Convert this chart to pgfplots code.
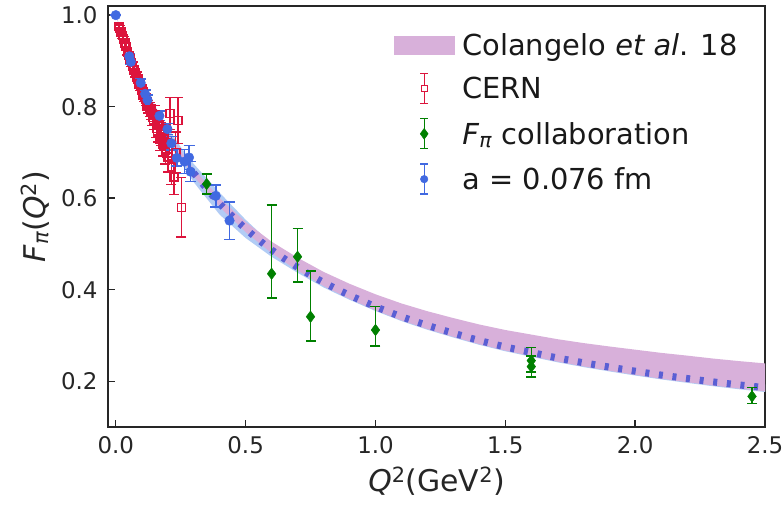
\documentclass[border=0pt]{standalone}
\usepackage{fontspec}
\setmainfont{DejaVu Sans}
\usepackage{pgfplots}
\usepackage{pgfplotstable}
\pgfplotsset{compat=1.18}
\usepgfplotslibrary{fillbetween}

\definecolor{crimson}{RGB}{220,20,60}
\definecolor{royal}{RGB}{65,105,225}
\definecolor{fgreen}{RGB}{0,128,0}
\definecolor{pinkband}{RGB}{216,176,218}
\definecolor{latband}{RGB}{178,204,245}
\definecolor{dashblue}{RGB}{90,95,212}

\pgfplotstableread{
x    cu     cl     lu     ll     c
0.00 1.000  1.000  1.000  1.000  1.000
0.05 0.9205 0.9175 0.923  0.915  0.919
0.10 0.854  0.848  0.859  0.843  0.851
0.15 0.7965 0.788  0.803  0.781  0.792
0.20 0.746  0.735  0.754  0.726  0.740
0.25 0.7025 0.689  0.712  0.678  0.695
0.30 0.664  0.648  0.675  0.635  0.655
0.40 0.600  0.581  0.612  0.564  0.588
0.50 0.548  0.526  0.553  0.513  0.533
0.60 0.505  0.480  0.500  0.472  0.487
0.70 0.470  0.442  0.460  0.437  0.449
0.80 0.439  0.408  0.425  0.405  0.416
0.90 0.413  0.380  0.396  0.378  0.388
1.00 0.390  0.355  0.370  0.3535 0.363
1.10 0.370  0.333  0.348  0.3315 0.341
1.20 0.353  0.314  0.329  0.3125 0.322
1.30 0.338  0.297  0.312  0.2955 0.305
1.40 0.324  0.281  0.296  0.2795 0.289
1.50 0.312  0.267  0.282  0.2655 0.275
1.60 0.302  0.255  0.270  0.2535 0.263
1.70 0.292  0.243  0.258  0.2415 0.251
1.80 0.2835 0.2325 0.2475 0.231  0.2405
1.90 0.276  0.223  0.238  0.2215 0.231
2.00 0.269  0.214  0.229  0.2125 0.222
2.10 0.262  0.2055 0.2205 0.204  0.2135
2.20 0.256  0.198  0.213  0.1965 0.206
2.30 0.2496 0.1906 0.2056 0.1891 0.1986
2.40 0.244  0.184  0.199  0.1825 0.192
2.50 0.239  0.178  0.193  0.1765 0.186
}\bands

\pgfplotstableread{
x     y     e
0.012 0.975 0.006
0.015 0.972 0.006
0.020 0.963 0.006
0.025 0.955 0.006
0.030 0.948 0.006
0.035 0.939 0.007
0.040 0.931 0.007
0.045 0.920 0.007
0.050 0.912 0.008
0.055 0.904 0.008
0.060 0.896 0.008
0.065 0.889 0.009
0.070 0.880 0.009
0.075 0.874 0.009
0.080 0.866 0.010
0.085 0.860 0.010
0.090 0.851 0.010
0.095 0.846 0.011
0.100 0.838 0.011
0.105 0.829 0.012
0.110 0.823 0.012
0.115 0.816 0.013
0.120 0.806 0.013
0.125 0.800 0.014
0.130 0.794 0.015
0.135 0.788 0.016
0.141 0.776 0.017
0.146 0.768 0.018
0.151 0.782 0.020
0.156 0.752 0.020
0.161 0.745 0.022
0.166 0.760 0.022
0.171 0.728 0.024
0.176 0.740 0.025
0.181 0.718 0.026
0.186 0.732 0.028
0.191 0.705 0.030
0.196 0.722 0.032
0.201 0.690 0.033
0.209 0.785 0.035
0.214 0.668 0.038
0.224 0.646 0.038
0.231 0.700 0.045
0.240 0.770 0.050
0.253 0.580 0.065
}\cern

\pgfplotstableread{
x     y     ep    em
0.35  0.631 0.022 0.022
0.60  0.435 0.150 0.053
0.70  0.472 0.062 0.055
0.75  0.341 0.100 0.053
1.00  0.312 0.051 0.035
1.60  0.245 0.029 0.025
1.60  0.232 0.023 0.023
2.45  0.167 0.019 0.016
}\fpi

\pgfplotstableread{
x     y     e
0.000 1.000 0.000
0.052 0.910 0.006
0.058 0.898 0.006
0.096 0.852 0.008
0.113 0.828 0.008
0.122 0.815 0.010
0.168 0.780 0.010
0.199 0.751 0.012
0.214 0.720 0.015
0.235 0.688 0.018
0.265 0.680 0.026
0.282 0.689 0.026
0.288 0.658 0.022
0.385 0.605 0.024
0.438 0.551 0.041
}\latt

\begin{document}
\begin{tikzpicture}
\begin{axis}[
  name=ax,
  scale only axis,
  width=657bp, height=421bp,
  xmin=-0.03, xmax=2.5,
  ymin=0.1, ymax=1.02,
  xtick={0,0.5,1,1.5,2,2.5},
  xticklabels={0.0,0.5,1.0,1.5,2.0,2.5},
  ytick={0.2,0.4,0.6,0.8,1.0},
  yticklabels={0.2,0.4,0.6,0.8,1.0},
  /pgf/number format/assume math mode=true,
  tick align=inside,
  xtick pos=bottom, ytick pos=left,
  major tick length=7bp,
  tick style={line width=1.4bp, black!85},
  axis line style={line width=1.6bp, black!85},
  ticklabel style={font=\fontsize{23}{27}\selectfont, text=black!85},
  xticklabel style={yshift=-6bp},
  yticklabel style={xshift=-7bp},
  label style={font=\fontsize{30}{34}\selectfont, text=black!85},
  xlabel={\textit{Q}\textsuperscript{2}(GeV\textsuperscript{2})},
  ylabel={\textit{F}\textsubscript{\textit{π}}(\textit{Q}\textsuperscript{2})},
  x label style={at={(axis description cs:0.5,-0.095)}, anchor=north, inner sep=0pt},
  y label style={at={(axis description cs:-0.111,0.5)}, anchor=center, inner sep=0pt},
  legend style={at={(0.435,0.94)}, anchor=north west, draw=none, fill=none,
    font=\fontsize{29}{33}\selectfont, row sep=14bp, inner sep=0pt, text=black!90,
    /tikz/every odd column/.append style={column sep=6bp}},
  legend cell align=left,
  clip=true,
]
% bands
\addplot[name path=lu, draw=none, forget plot] table[x=x,y=lu] {\bands};
\addplot[name path=ll, draw=none, forget plot] table[x=x,y=ll] {\bands};
\addplot[latband, forget plot] fill between[of=lu and ll];
\addplot[name path=cu, draw=none, forget plot] table[x=x,y=cu] {\bands};
\addplot[name path=cl, draw=none, forget plot] table[x=x,y=cl] {\bands};
\addplot[pinkband, forget plot] fill between[of=cu and cl];
\addplot[dashblue, line width=7bp, dash pattern=on 4bp off 9.7bp, smooth, forget plot]
  table[x=x,y=c, restrict x to domain=0.29:2.6] {\bands};

% CERN
\addplot[only marks, draw=crimson, color=crimson, mark=square, mark size=4bp,
  mark options={line width=1.5bp, draw=crimson, fill=none, solid}, forget plot,
  error bars/.cd, y dir=both, y explicit,
  error bar style={line width=1.4bp, draw=crimson},
  error mark options={rotate=90, mark size=5bp, line width=1.4bp, draw=crimson}]
  table[x=x, y=y, y error=e] {\cern};

% F_pi collaboration
\addplot[only marks, fgreen, mark=diamond*, mark size=5.8bp,
  mark options={fill=fgreen, draw=fgreen, solid}, forget plot,
  error bars/.cd, y dir=both, y explicit,
  error bar style={line width=1.4bp, fgreen},
  error mark options={rotate=90, mark size=5bp, line width=1.4bp, fgreen}]
  table[x=x, y=y, y error plus=ep, y error minus=em] {\fpi};

% lattice
\addplot[only marks, royal, mark=*, mark size=4.8bp,
  mark options={fill=royal, draw=royal, solid}, forget plot,
  error bars/.cd, y dir=both, y explicit,
  error bar style={line width=1.5bp, royal},
  error mark options={rotate=90, mark size=5.5bp, line width=1.5bp, royal}]
  table[x=x, y=y, y error=e] {\latt};

% legend
\addlegendimage{legend image code/.code={
  \fill[pinkband] (0bp,-9bp) rectangle (60bp,9bp);}}
\addlegendentry{Colangelo \textit{et al}. 18}
\addlegendimage{legend image code/.code={
  \path[draw=none, fill=none] (0bp,0bp) rectangle (60bp,0.1bp);
  \draw[draw=crimson, line width=1.3bp] (30bp,-15bp) -- (30bp,15bp) (26bp,-15bp) -- (34bp,-15bp) (26bp,15bp) -- (34bp,15bp);
  \draw[draw=crimson, fill=white, line width=1.3bp] (27bp,-3.2bp) rectangle (33bp,3.2bp);}}
\addlegendentry{CERN}
\addlegendimage{legend image code/.code={
  \path[draw=none, fill=none] (0bp,0bp) rectangle (60bp,0.1bp);
  \draw[draw=fgreen, line width=1.3bp] (30bp,-15bp) -- (30bp,15bp) (26bp,-15bp) -- (34bp,-15bp) (26bp,15bp) -- (34bp,15bp);
  \fill[fgreen] (30bp,-5.5bp) -- (34bp,0bp) -- (30bp,5.5bp) -- (26bp,0bp) -- cycle;}}
\addlegendentry{\textit{F}\textsubscript{\textit{π}} collaboration}
\addlegendimage{legend image code/.code={
  \path[draw=none, fill=none] (0bp,0bp) rectangle (60bp,0.1bp);
  \draw[draw=royal, line width=1.3bp] (30bp,-15bp) -- (30bp,15bp) (26bp,-15bp) -- (34bp,-15bp) (26bp,15bp) -- (34bp,15bp);
  \fill[royal] (30bp,0bp) circle (3.8bp);}}
\addlegendentry{a = 0.076 fm}
\end{axis}
\pgfresetboundingbox
\path[use as bounding box] ([shift={(-108bp,-79bp)}]ax.south west) rectangle ([shift={(18bp,6bp)}]ax.north east);
\end{tikzpicture}
\end{document}
